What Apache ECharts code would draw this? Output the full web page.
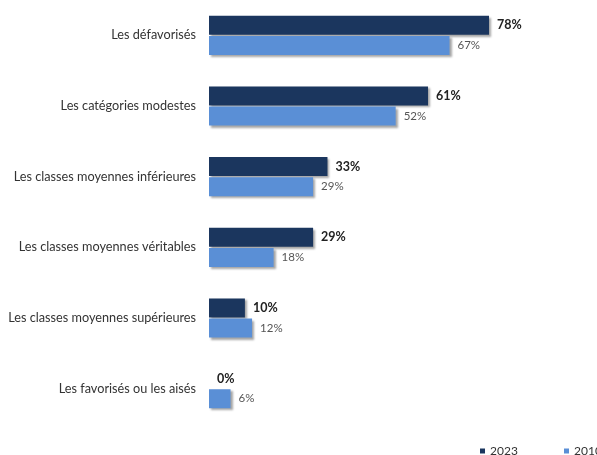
<!DOCTYPE html>
<html><head><meta charset="utf-8">
<script src="https://cdn.jsdelivr.net/npm/echarts@6/dist/echarts.min.js"></script>
<style>html,body{margin:0;padding:0;background:#fff}#c{width:597px;height:455px}</style>
</head><body><div id="c"></div>
<script>
const categories = ["Les défavorisés","Les catégories modestes","Les classes moyennes inférieures","Les classes moyennes véritables","Les classes moyennes supérieures","Les favorisés ou les aisés"];
const values2023 = [78, 61, 33, 29, 10, 0];
const values2010 = [67, 52, 29, 18, 12, 6];
const seriesNames = ["2023", "2010"];

const chart = echarts.init(document.getElementById('c'), null, {renderer:'canvas'});
const shadow = {shadowColor:'rgba(0,0,0,0.35)', shadowOffsetX:2, shadowOffsetY:2, shadowBlur:2};
const font = 'Lato';
const legendBase = {top:440, itemWidth:5, itemHeight:5, itemTextGap:3, icon:'rect',
  textStyle:{fontSize:12, color:'#333', fontFamily:font}};
chart.setOption({
  animation:false,
  textStyle:{fontFamily:font},
  grid:{left:209, right:29, top:-3, bottom:31, containLabel:false},
  legend:[
    Object.assign({data:[seriesNames[0]], left:475}, legendBase),
    Object.assign({data:[seriesNames[1]], left:559}, legendBase)
  ],
  xAxis:{type:'value', min:0, max:100, show:false},
  yAxis:{type:'category', data:categories, inverse:true,
    axisLine:{show:false}, axisTick:{show:false},
    axisLabel:{margin:13, fontSize:12.7, color:'#333', fontFamily:font}},
  series:[
    {name:seriesNames[0], type:'bar', data:values2023, barWidth:19, barGap:'6%', barCategoryGap:'44%',
     itemStyle:Object.assign({color:'#1b365e'}, shadow),
     label:{show:true, position:'right', distance:8, formatter:'{c}%', fontWeight:'bold', fontSize:12.5, color:'#222', fontFamily:font}},
    {name:seriesNames[1], type:'bar', data:values2010, barWidth:19,
     itemStyle:Object.assign({color:'#5a8fd6'}, shadow),
     label:{show:true, position:'right', distance:8, formatter:'{c}%', fontSize:11.5, color:'#555', fontFamily:font}}
  ]
});
</script></body></html>
